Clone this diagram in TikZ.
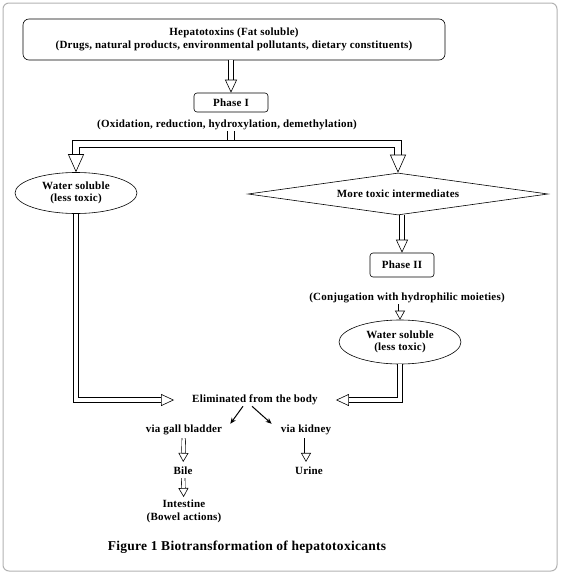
\documentclass[tikz,border=0pt]{standalone}
\usepackage{fontspec}
\setmainfont{Liberation Serif}[LetterSpace=2]
\usetikzlibrary{shapes.geometric,arrows.meta}

\begin{document}
\begin{tikzpicture}[x=1pt,y=-1pt,
    font=\fontsize{11}{12.5}\selectfont\bfseries,
    every node/.style={inner sep=1pt},
    box/.style={draw,rounded corners=3pt,line width=0.6pt,minimum width=74pt,minimum height=19pt},
    ws/.style={draw,ellipse,line width=0.6pt,minimum width=122pt,minimum height=41pt,inner sep=0pt,align=center},
    harrow/.style={double,double distance=4pt,line width=0.6pt,>={Triangle[open,width=12pt,length=13pt,line width=0.6pt]},->},
    sarrow/.style={harrow,double distance=3pt,>={Triangle[open,width=10pt,length=9pt,line width=0.6pt]},->},
    tbar/.style={double,double distance=6pt,line width=0.6pt,>={Triangle[open,width=16pt,length=18pt,line width=0.6pt]}},
    varrow/.style={line width=1pt,-{Stealth[length=6pt,width=5pt]}}]
    \useasboundingbox (0,0) rectangle (560,576);
    \draw[gray!60,line width=1pt,rounded corners=6pt] (3,3) rectangle (557,571);

    \node[draw,rounded corners=6pt,line width=0.6pt,minimum width=422pt,minimum height=41pt,align=center] (hep) at (234,39.5) {Hepatotoxins (Fat soluble)\\(Drugs, natural products, environmental pollutants, dietary constituents)};
    \node[box] (ph1) at (231,102.5) {Phase I};
    \node (ox) at (227,125) {(Oxidation, reduction, hydroxylation, demethylation)};
    \coordinate (bar) at (231,144);
    \node[ws] (wsl) at (76,193) {Water soluble\\(less toxic)};
    \node[draw,diamond,aspect=7.1,line width=0.6pt,minimum width=300pt,minimum height=42pt,inner sep=0pt] (tox) at (398,194) {More toxic intermediates};
    \node[box,minimum width=64pt,minimum height=24pt] (ph2) at (402,265) {Phase II};
    \node (conj) at (407,298) {(Conjugation with hydrophilic moieties)};
    \node[ws,minimum height=44pt] (wsr) at (400,342) {Water soluble\\(less toxic)};
    \node (elim) at (255,400) {Eliminated from the body};
    \node (gall) at (184,430) {via gall bladder};
    \node (kid) at (306,430) {via kidney};
    \node (bile) at (183,471) {Bile};
    \node (urine) at (309,471) {Urine};
    \node[align=center] (int) at (184,511.5) {Intestine\\(Bowel actions)};
    \node[font=\fontsize{13.5}{15}\selectfont\bfseries] (cap) at (247,547) {Figure 1 Biotransformation of hepatotoxicants};

    \draw[harrow] (hep.south -| ph1.north) -- (ph1.north);
    \draw[tbar] (ox.south -| bar) -- ([yshift=3.6pt]bar);
    \draw[tbar,<->] (wsl.north) |- (bar) -| (tox.north);
    \draw[harrow] (ph2.north |- tox.south) -- (ph2.north);
    \draw[sarrow] (conj.south -| wsr.north) -- (wsr.north);
    \draw[harrow,shorten >=17pt] (wsl.south) |- (elim.west);
    \draw[harrow,shorten >=17pt] (wsr.south) |- (elim.east);
    \draw[varrow] ([xshift=-12pt]elim.south) -- ([xshift=7pt]gall.north east);
    \draw[varrow] ([xshift=-3pt]elim.south) -- ([xshift=-8pt]kid.north west);
    \draw[sarrow,shorten <=2pt,shorten >=4pt] (gall) -- (bile);
    \draw[sarrow,shorten <=2pt,shorten >=4pt] (kid) -- (kid |- urine.north);
    \draw[sarrow,shorten <=2pt,shorten >=2pt] (bile) -- (int);
\end{tikzpicture}
\end{document}
